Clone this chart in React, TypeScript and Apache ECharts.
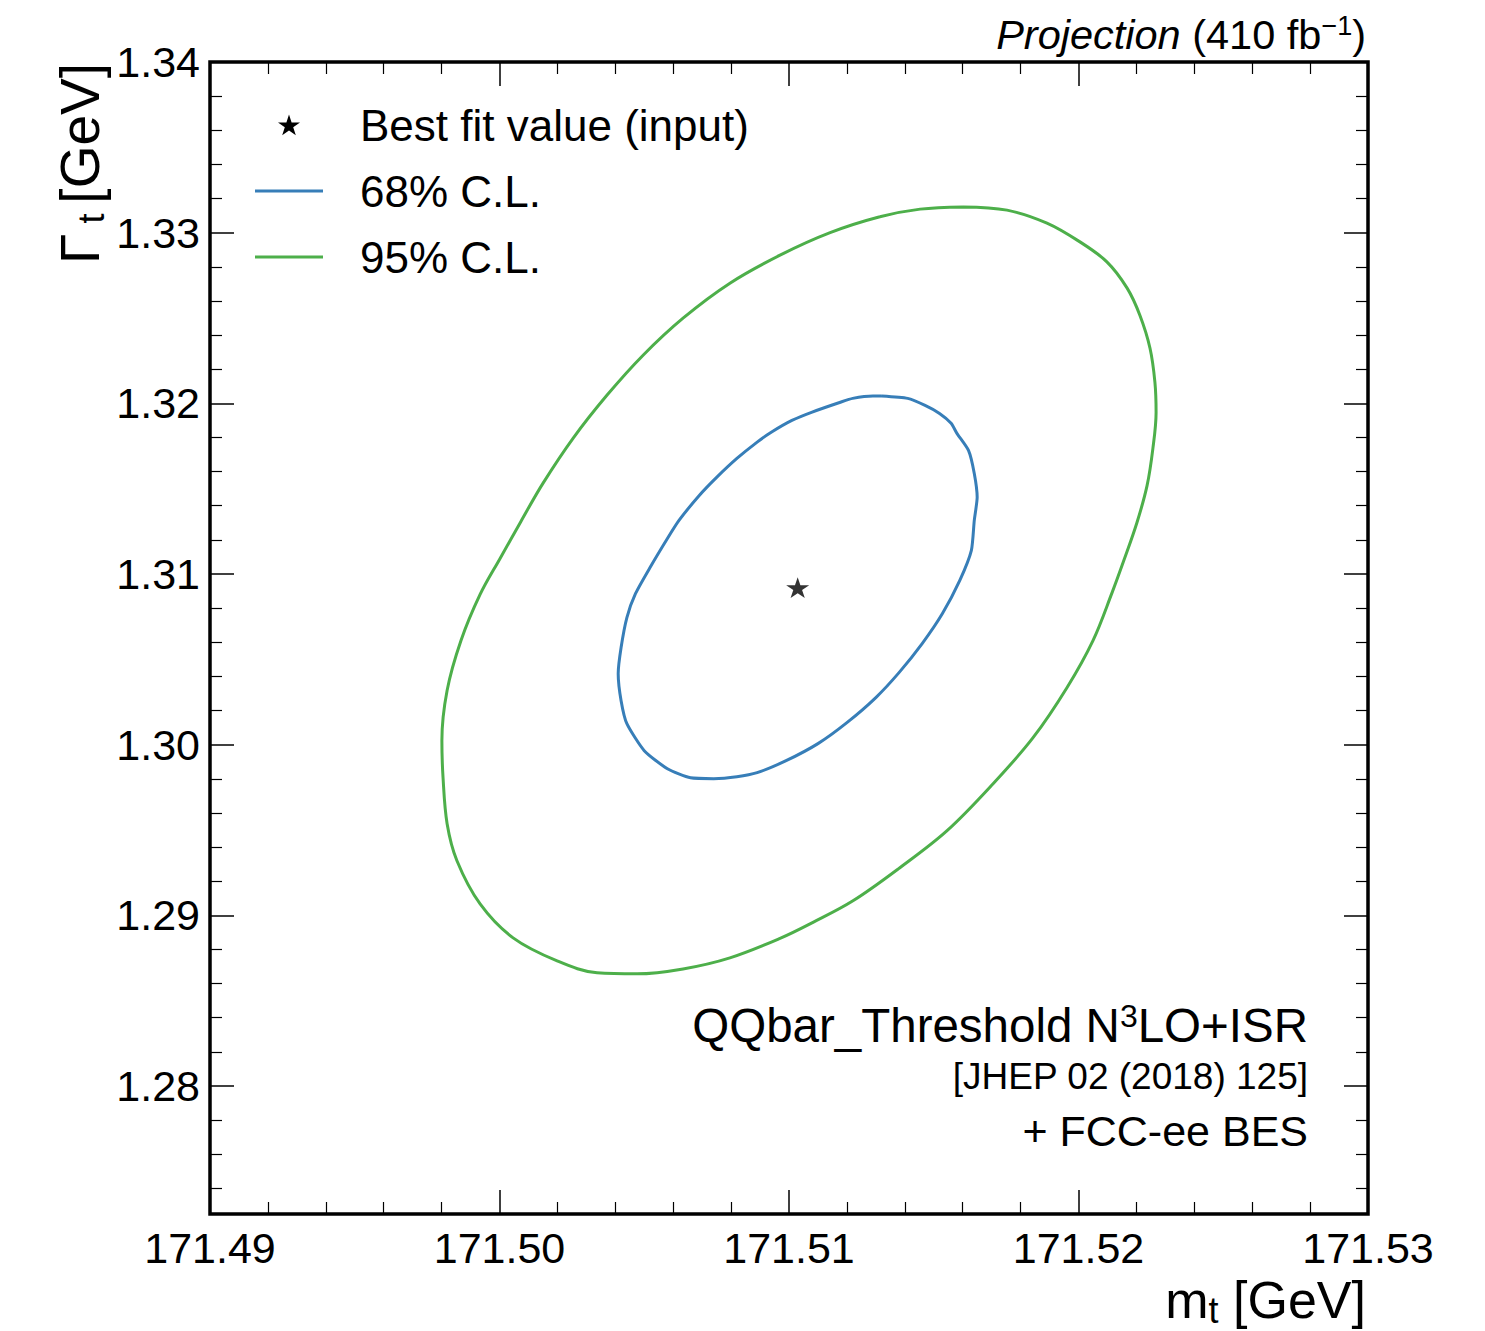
import React, { useEffect, useRef } from "react";
import * as echarts from "echarts";

// Axis ranges
const X_MIN = 171.49;
const X_MAX = 171.53;
const X_STEP = 0.01;
const Y_MIN = 1.2725;
const Y_MAX = 1.34;

// Best fit (input) point
const bestFit = [171.5103, 1.3092];

// 68% C.L. contour (m_t, Gamma_t)
const cl68X = [
  171.5132, 171.5129, 171.5122, 171.5118, 171.5108, 171.5101, 171.5094, 171.5089, 171.5082, 171.5075,
  171.5069, 171.5062, 171.5058, 171.5052, 171.5047, 171.5044, 171.5042, 171.5041, 171.5042, 171.5044,
  171.505, 171.5058, 171.5066, 171.5074, 171.5082, 171.5089, 171.5099, 171.511, 171.512, 171.513,
  171.5138, 171.5146, 171.5153, 171.5159, 171.5163, 171.5164, 171.5165, 171.5164, 171.5162, 171.5158,
  171.5156, 171.5152, 171.5147, 171.5141,
];
const cl68Y = [
  1.32043, 1.32043, 1.32029, 1.32008, 1.31949, 1.319, 1.31832, 1.31773, 1.31677, 1.31566,
  1.3146, 1.31314, 1.31208, 1.31038, 1.30886, 1.30745, 1.30569, 1.30416, 1.30258, 1.30123,
  1.29965, 1.29859, 1.29806, 1.29801, 1.29812, 1.29836, 1.29906, 1.30006, 1.30129, 1.30276,
  1.30422, 1.30592, 1.30768, 1.30962, 1.31138, 1.31314, 1.31449, 1.31589, 1.31724, 1.31824,
  1.31883, 1.31941, 1.31988, 1.32029,
];

// 95% C.L. contour (m_t, Gamma_t)
const cl95X = [
  171.51601, 171.51453, 171.51314, 171.51142, 171.50969, 171.50796, 171.50634, 171.50496, 171.50371, 171.50254,
  171.5015, 171.50074, 171.50002, 171.49933, 171.49867, 171.49819, 171.49801, 171.49805, 171.49819, 171.49853,
  171.49933, 171.50047, 171.50199, 171.50337, 171.50475, 171.50634, 171.50796, 171.50969, 171.51083, 171.51221,
  171.51383, 171.51546, 171.51705, 171.51843, 171.5196, 171.5205, 171.52116, 171.52154, 171.52202, 171.52237,
  171.52257, 171.52268, 171.52264, 171.52247, 171.52212, 171.52168, 171.52098, 171.52005, 171.51891, 171.51753,
];
const cl95Y = [
  1.33151, 1.33138, 1.33093, 1.33, 1.32868, 1.32704, 1.32499, 1.32282, 1.32047, 1.31795,
  1.31531, 1.31308, 1.31091, 1.3088, 1.3061, 1.30317, 1.30023, 1.29806, 1.29537, 1.2932,
  1.29067, 1.28868, 1.28733, 1.28663, 1.28657, 1.28686, 1.28751, 1.28865, 1.28959, 1.29085,
  1.29279, 1.29496, 1.29771, 1.30041, 1.30334, 1.3061, 1.30891, 1.31067, 1.31302, 1.31519,
  1.31736, 1.31947, 1.32123, 1.32323, 1.32516, 1.32675, 1.32829, 1.32946, 1.33056, 1.33132,
];

const legendLabels = ["Best fit value (input)", "68% C.L.", "95% C.L."];
const COLOR_68 = "#377eb8";
const COLOR_95 = "#4daf4a";
const FONT = "'Liberation Sans', Arial, Helvetica, sans-serif";

// five-point star (matplotlib '*')
const STAR_VERTS: number[][] = [
  [0, -50], [11.23, -15.45], [47.55, -15.45], [18.17, 5.9], [29.39, 40.45],
  [0, 19.1], [-29.39, 40.45], [-18.17, 5.9], [-47.55, -15.45], [-11.23, -15.45],
];
const STAR_PATH =
  "path://" + STAR_VERTS.map((p, i) => (i === 0 ? "M" : "L") + p[0] + "," + p[1]).join(" ") + " Z";

function closed(xs: number[], ys: number[]) {
  const pts = xs.map((x, i) => [x, ys[i]]);
  pts.push(pts[0]);
  return pts;
}

function isMajor(v: number, step: number) {
  const r = v / step;
  return Math.abs(r - Math.round(r)) < 1e-6;
}

export default function App() {
  const ref = useRef<HTMLDivElement>(null);

  useEffect(() => {
    if (!ref.current) return;
    const chart = echarts.init(ref.current, null, { renderer: "svg" });

    const tickCommon = {
      axisLine: { show: false },
      axisTick: { show: true, inside: true, length: 24, lineStyle: { color: "#000", width: 1.5 } },
      minorTick: { show: true, splitNumber: 5, length: 12, lineStyle: { color: "#000", width: 1.2 } },
      splitLine: { show: false },
      minorSplitLine: { show: false },
    };

    const xCommon = {
      type: "value",
      min: X_MIN,
      max: X_MAX,
      interval: X_STEP,
      ...tickCommon,
    };
    const yCommon = {
      type: "value",
      min: Y_MIN,
      max: Y_MAX,
      splitNumber: 7,
      ...tickCommon,
    };

    const starPoly = (cx: number, cy: number, size: number) =>
      STAR_VERTS.map((p) => [cx + (p[0] / 95.1) * size, cy + (p[1] / 95.1) * size + 1]);

    const option: any = {
      animation: false,
      backgroundColor: "#fff",
      grid: {
        left: 210,
        top: 62,
        right: 117,
        bottom: 117,
        show: true,
        borderColor: "#000",
        borderWidth: 3.5,
        backgroundColor: "transparent",
        containLabel: false,
      },
      xAxis: [
        {
          ...xCommon,
          position: "bottom",
          axisLabel: {
            show: true,
            margin: 12,
            fontSize: 43,
            fontFamily: FONT,
            color: "#000",
            formatter: (v: number) => v.toFixed(2),
          },
        },
        {
          ...xCommon,
          position: "top",
          axisLabel: { show: false },
        },
      ],
      yAxis: [
        {
          ...yCommon,
          position: "left",
          axisLabel: {
            show: true,
            margin: 10,
            fontSize: 43,
            fontFamily: FONT,
            color: "#000",
            formatter: (v: number) => (isMajor(v, 0.01) ? v.toFixed(2) : ""),
          },
        },
        {
          ...yCommon,
          position: "right",
          axisLabel: { show: false },
        },
      ],
      series: [
        {
          name: legendLabels[2],
          type: "line",
          xAxisIndex: 0,
          yAxisIndex: 0,
          data: closed(cl95X, cl95Y),
          showSymbol: false,
          symbol: "none",
          smooth: 0.35,
          lineStyle: { color: COLOR_95, width: 3 },
          z: 3,
        },
        {
          name: legendLabels[1],
          type: "line",
          xAxisIndex: 0,
          yAxisIndex: 0,
          data: closed(cl68X, cl68Y),
          showSymbol: false,
          symbol: "none",
          smooth: 0.2,
          lineStyle: { color: COLOR_68, width: 3 },
          z: 3,
        },
        {
          name: legendLabels[0],
          type: "scatter",
          xAxisIndex: 0,
          yAxisIndex: 0,
          data: [bestFit],
          symbol: STAR_PATH,
          symbolSize: [23, 22],
          symbolKeepAspect: true,
          itemStyle: { color: "#000" },
          z: 4,
        },
      ],
      graphic: [
        // legend
        {
          type: "polygon",
          shape: { points: starPoly(289, 125, 22) },
          style: { fill: "#000" },
        },
        {
          type: "line",
          shape: { x1: 255, y1: 191, x2: 323, y2: 191 },
          style: { stroke: COLOR_68, lineWidth: 3 },
        },
        {
          type: "line",
          shape: { x1: 255, y1: 257, x2: 323, y2: 257 },
          style: { stroke: COLOR_95, lineWidth: 3 },
        },
        ...legendLabels.map((t, i) => ({
          type: "text",
          x: 360,
          y: 125 + i * 66,
          style: {
            text: t,
            fontSize: 44,
            fontFamily: FONT,
            fill: "#000",
            align: "left",
            verticalAlign: "middle",
          },
        })),
        // top-right label
        {
          type: "text",
          x: 1366,
          y: 34,
          style: {
            text: "{i|Projection }{n|(410 fb}{s|−1}{n|)}",
            align: "right",
            verticalAlign: "middle",
            fill: "#000",
            rich: {
              i: { fontSize: 41.5, fontFamily: FONT, fontStyle: "italic", lineHeight: 44, fill: "#000" },
              n: { fontSize: 41.5, fontFamily: FONT, lineHeight: 44, fill: "#000" },
              s: { fontSize: 27, fontFamily: FONT, lineHeight: 22, verticalAlign: "top", fill: "#000" },
            },
          },
        },
        // annotation
        {
          type: "text",
          x: 1308,
          y: 1025,
          style: {
            text: "{a|QQbar_Threshold N}{s|3}{a|LO+ISR}",
            align: "right",
            verticalAlign: "middle",
            fill: "#000",
            rich: {
              a: { fontSize: 47.5, fontFamily: FONT, lineHeight: 50, fill: "#000" },
              s: { fontSize: 32, fontFamily: FONT, lineHeight: 28, verticalAlign: "top", fill: "#000" },
            },
          },
        },
        {
          type: "text",
          x: 1308,
          y: 1076,
          style: {
            text: "[JHEP 02 (2018) 125]",
            fontSize: 37,
            fontFamily: FONT,
            fill: "#000",
            align: "right",
            verticalAlign: "middle",
          },
        },
        {
          type: "text",
          x: 1308,
          y: 1131,
          style: {
            text: "+ FCC-ee BES",
            fontSize: 43,
            fontFamily: FONT,
            fill: "#000",
            align: "right",
            verticalAlign: "middle",
          },
        },
        // x axis title
        {
          type: "text",
          x: 1366,
          y: 1300,
          style: {
            text: "{a|m}{b|t}{a| [GeV]}",
            align: "right",
            verticalAlign: "middle",
            fill: "#000",
            rich: {
              a: { fontSize: 52, fontFamily: FONT, lineHeight: 56, fill: "#000" },
              b: { fontSize: 36, fontFamily: FONT, lineHeight: 32, verticalAlign: "bottom", fill: "#000" },
            },
          },
        },
        // y axis title
        {
          type: "text",
          x: 80,
          y: 63,
          rotation: Math.PI / 2,
          style: {
            text: "{a|Γ}{b| t }{a|[GeV]}",
            align: "right",
            verticalAlign: "middle",
            fill: "#000",
            rich: {
              a: { fontSize: 55, fontFamily: FONT, lineHeight: 58, fill: "#000" },
              b: { fontSize: 36, fontFamily: FONT, lineHeight: 32, verticalAlign: "bottom", fill: "#000" },
            },
          },
        },
      ],
    };

    chart.setOption(option);
    return () => chart.dispose();
  }, []);

  return (
    <div
      ref={ref}
      style={{ position: "absolute", left: 0, top: 0, width: 1485, height: 1331, background: "#fff" }}
    />
  );
}
